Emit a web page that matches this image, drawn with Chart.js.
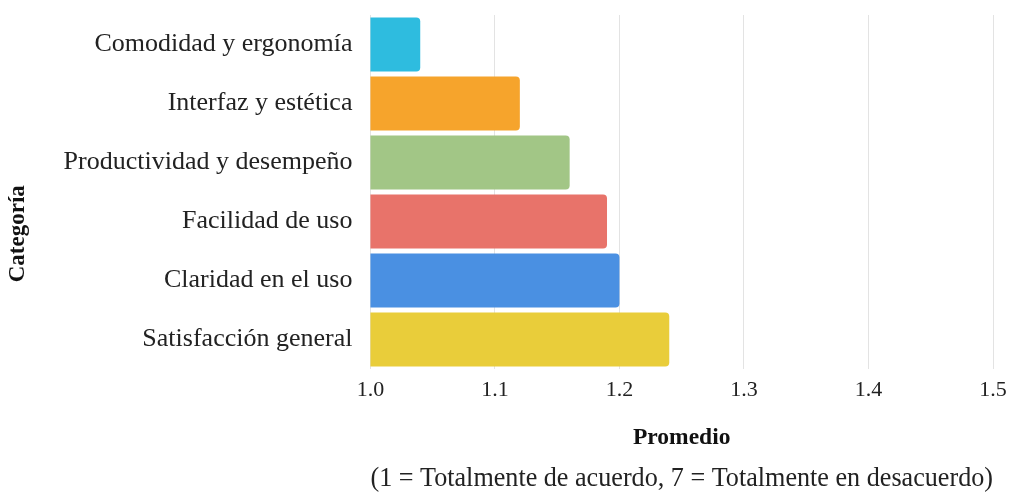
<!DOCTYPE html>
<html>
<head>
<meta charset="utf-8">
<script src="https://cdn.jsdelivr.net/npm/chart.js@4"></script>
<style>
  html, body { margin: 0; padding: 0; background: #ffffff; }
  #wrap { width: 1009px; height: 492px; }
</style>
</head>
<body>
<div id="wrap"><canvas id="c" width="1009" height="492"></canvas></div>
<script>
const categories = [
  'Comodidad y ergonomía',
  'Interfaz y estética',
  'Productividad y desempeño',
  'Facilidad de uso',
  'Claridad en el uso',
  'Satisfacción general'
];
const averages = [1.04, 1.12, 1.16, 1.19, 1.20, 1.24];
const barColors = ['#2EBCDF', '#F6A42C', '#A2C686', '#E8736A', '#4A90E2', '#E9CD3A'];
const xTitle = 'Promedio';
const xNote = '(1 = Totalmente de acuerdo, 7 = Totalmente en desacuerdo)';
const yTitle = 'Categoría';

const serif = "'Liberation Serif', 'Times New Roman', serif";
Chart.defaults.font.family = serif;
Chart.defaults.color = '#222';

const yTitleFont = { size: 23, weight: 'bold', lineHeight: 1.2 };

// The y-axis title is centred on the plot plus the x-axis block below it,
// so the scale only reserves its room and this plugin paints it.
const yTitlePlugin = {
  id: 'yTitlePlugin',
  afterDraw(chart) {
    const y = chart.scales.y, x = chart.scales.x;
    const ctx = chart.ctx;
    const lh = yTitleFont.size * yTitleFont.lineHeight;
    ctx.save();
    ctx.translate(y.left + lh / 2, (chart.chartArea.top + x.bottom) / 2);
    ctx.rotate(-Math.PI / 2);
    ctx.font = `bold ${yTitleFont.size}px ${serif}`;
    ctx.fillStyle = '#111';
    ctx.textAlign = 'center';
    ctx.textBaseline = 'middle';
    ctx.fillText(yTitle, 0, 0);
    ctx.restore();
  }
};

new Chart(document.getElementById('c'), {
  type: 'bar',
  data: {
    labels: categories,
    datasets: [{
      data: averages,
      backgroundColor: barColors,
      borderRadius: 4,
      borderSkipped: 'start',
      barPercentage: 0.915,
      categoryPercentage: 1.0
    }]
  },
  options: {
    indexAxis: 'y',
    responsive: false,
    animation: false,
    layout: { padding: { top: 15, right: 16, left: 4, bottom: 0 } },
    plugins: { legend: { display: false }, tooltip: { enabled: false } },
    scales: {
      x: {
        min: 1.0, max: 1.5,
        ticks: { stepSize: 0.1, font: { size: 22 }, color: '#222', padding: 8,
                 callback: v => Number(v).toFixed(1) },
        grid: { color: '#e3e3e3', drawTicks: false },
        border: { display: false },
        title: { display: true, text: xTitle, font: { size: 23.5, weight: 'bold' }, color: '#111',
                 padding: { top: 13, bottom: 0 } },
        // the outer tick labels may hang past the plot edges
        afterFit: s => { s.paddingLeft = 0; s.paddingRight = 0; }
      },
      x2: {
        type: 'linear', position: 'bottom', min: 1.0, max: 1.5,
        grid: { display: false, drawTicks: false },
        border: { display: false },
        ticks: { display: false },
        title: { display: true, text: xNote, font: { size: 26.5, lineHeight: 1.0 }, color: '#222',
                 padding: { top: 13, bottom: 0 } }
      },
      y: {
        grid: { display: false, drawTicks: false },
        border: { display: false },
        ticks: { font: { size: 26 }, color: '#222', padding: 18 },
        title: { display: true, text: yTitle, font: yTitleFont, color: 'rgba(0,0,0,0)',
                 padding: { top: 0, bottom: 14 } },
        // category labels sit inside their bands, so no extra room above/below
        afterFit: s => { s.paddingTop = 0; s.paddingBottom = 0; }
      }
    }
  },
  plugins: [yTitlePlugin]
});
</script>
</body>
</html>
